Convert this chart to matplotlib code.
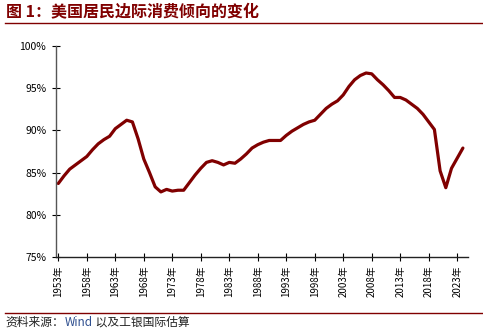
#!/usr/bin/env python3
"""
plot.py

美国居民边际消费倾向的变化 (1953-2024), saved as out.png.
"""

import matplotlib
matplotlib.use("Agg")
import matplotlib.pyplot as plt
from matplotlib.lines import Line2D
from matplotlib.ticker import FuncFormatter

plt.rcParams['font.family'] = ['Noto Sans CJK SC', 'DejaVu Sans']

# data (percent)
years = list(range(1953, 2025))
mpc = [
    83.7, 84.6, 85.4, 85.9, 86.4, 86.9, 87.7, 88.4, 88.9, 89.3,  # 1953-1962
    90.2, 90.7, 91.2, 91.0, 89.0, 86.6, 85.0, 83.3, 82.7, 83.0,  # 1963-1972
    82.8, 82.9, 82.9, 83.8, 84.7, 85.5, 86.2, 86.4, 86.2, 85.9,  # 1973-1982
    86.2, 86.1, 86.6, 87.2, 87.9, 88.3, 88.6, 88.8, 88.8, 88.8,  # 1983-1992
    89.4, 89.9, 90.3, 90.7, 91.0, 91.2, 91.9, 92.6, 93.1, 93.5,  # 1993-2002
    94.2, 95.2, 96.0, 96.5, 96.8, 96.7, 96.0, 95.4, 94.7, 93.9,  # 2003-2012
    93.9, 93.6, 93.1, 92.6, 91.9, 91.0, 90.1, 85.2, 83.2, 85.5,  # 2013-2022
    86.7, 87.9,                                                  # 2023-2024
]
tick_years = list(range(1953, 2025, 5))
yticks = [75, 80, 85, 90, 95, 100]

title = "图 1：美国居民边际消费倾向的变化"
source_parts = [("资料来源：", "#222222"), ("Wind", "#2F4F8F"), (" 以及工银国际估算", "#222222")]

DARK_RED = "#800000"

fig = plt.figure(figsize=(4.83, 3.31), dpi=100)
ax = fig.add_axes([0.116, 0.224, 0.853, 0.637])

ax.plot(years, mpc, color=DARK_RED, linewidth=2.3, solid_capstyle='round',
        solid_joinstyle='round')

ax.set_xlim(1952.6, 2024.9)
ax.set_ylim(75, 100)
ax.set_yticks(yticks)
ax.yaxis.set_major_formatter(FuncFormatter(lambda v, _: f"{v:.0f}%"))
ax.set_xticks(tick_years)
ax.set_xticklabels([f"{y}年" for y in tick_years], rotation=90, fontsize=7)

ax.tick_params(axis='y', direction='inout', length=6, width=0.8, labelsize=7.5, pad=4)
ax.tick_params(axis='x', direction='inout', length=6, width=0.8, pad=3)

for side in ("top", "right"):
    ax.spines[side].set_visible(False)
ax.spines['left'].set_color("#555555")
ax.spines['bottom'].set_color("#222222")
ax.spines['left'].set_linewidth(1.0)
ax.spines['bottom'].set_linewidth(1.0)

# title and source with the dark red rules
fig.text(0.012, 0.962, title, color=DARK_RED, fontsize=11.5, fontweight='bold',
         ha='left', va='center')
fig.add_artist(Line2D([0.010, 1.0], [0.930, 0.930], color=DARK_RED, linewidth=1.0))
fig.add_artist(Line2D([0.010, 1.0], [0.055, 0.055], color=DARK_RED, linewidth=1.0))

# source line: pieces placed one after another so "Wind" can take its own colour
renderer = fig.canvas.get_renderer()
x = 0.012
for txt, col in source_parts:
    t = fig.text(x, 0.027, txt, color=col, fontsize=8.5, style='italic',
                 ha='left', va='center')
    bb = t.get_window_extent(renderer=renderer)
    x += bb.width / fig.bbox.width

fig.savefig("out.png", dpi=100)
plt.close(fig)
